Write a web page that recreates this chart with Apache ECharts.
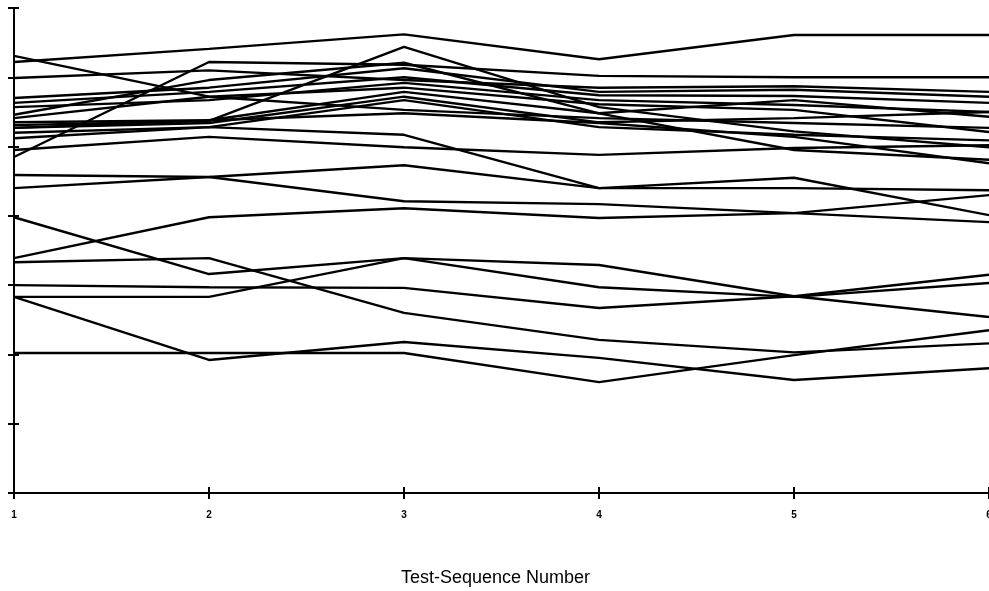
<!DOCTYPE html>
<html>
<head>
<meta charset="utf-8">
<script src="https://cdn.jsdelivr.net/npm/echarts@6/dist/echarts.min.js"></script>
<style>
    html, body {margin: 0; padding: 0; background: #fff; overflow: hidden;}
    #container {width: 989px; height: 591px;}
</style>
</head>
<body>
<div id="container"></div>
<script>
// 测试序号
var xdata = [1, 2, 3, 4, 5, 6];

// 每条线在各个测试序号上的读数
var line01 = [62.2, 64.1, 66.2, 62.6, 66.1, 66.1];
var line02 = [48.5, 62.2, 61.8, 60.2, 60.0, 60.0];
var line03 = [53.1, 53.7, 64.4, 55.7, 52.2, 49.9];
var line04 = [63.1, 57.2, 55.3, 54.1, 53.4, 52.7];
var line05 = [59.9, 61.0, 59.6, 58.5, 58.7, 57.9];
var line06 = [57.0, 58.5, 61.3, 57.9, 58.2, 57.2];
var line07 = [56.3, 57.9, 60.0, 57.4, 57.3, 56.3];
var line08 = [55.7, 56.7, 59.2, 56.7, 56.0, 55.0];
var line09 = [54.1, 57.2, 58.5, 56.1, 55.3, 52.1];
var line10 = [54.6, 59.6, 62.1, 54.8, 56.7, 54.3];
var line11 = [52.7, 53.4, 57.2, 53.5, 54.1, 55.0];
var line12 = [52.0, 52.8, 56.7, 52.8, 51.7, 50.9];
var line13 = [53.5, 53.8, 57.9, 54.8, 49.5, 48.1];
var line14 = [51.2, 52.8, 51.7, 44.0, 45.5, 40.1];
var line15 = [52.7, 53.8, 54.8, 53.4, 51.4, 47.6];
var line16 = [49.5, 51.4, 49.9, 48.8, 49.8, 50.2];
var line17 = [44.0, 45.6, 47.3, 44.0, 44.0, 43.7];
var line18 = [45.9, 45.6, 42.1, 41.7, 40.4, 39.1];
var line19 = [33.9, 39.8, 41.1, 39.7, 40.4, 43.0];
var line20 = [39.8, 31.6, 33.9, 32.9, 28.4, 25.4];
var line21 = [28.3, 28.3, 33.9, 29.7, 28.3, 30.3];
var line22 = [30.0, 29.7, 29.6, 26.7, 28.4, 31.5];
var line23 = [33.3, 33.9, 26.0, 22.1, 20.3, 21.6];
var line24 = [28.3, 19.2, 21.8, 19.5, 16.3, 18.0];
var line25 = [20.2, 20.2, 20.2, 16.0, 19.9, 23.5];

var lines = [line01, line02, line03, line04, line05, line06, line07, line08, line09, line10,
    line11, line12, line13, line14, line15, line16, line17, line18, line19, line20,
    line21, line22, line23, line24, line25];

var dom = document.getElementById("container");
var myChart = echarts.init(dom);

var series = [];
for (var k = 0; k < lines.length; k++) {
    var pts = [];
    for (var i = 0; i < xdata.length; i++) {
        pts.push([xdata[i], lines[k][i]]);
    }
    series.push({
        type: 'line',
        data: pts,
        symbol: 'none',
        xAxisIndex: 0,
        yAxisIndex: 0,
        lineStyle: {color: '#000', width: 2.4},
        silent: true
    });
}

var option = {
    animation: false,
    backgroundColor: '#fff',
    grid: {left: 14, right: 0, top: 8, bottom: 98, containLabel: false, outerBoundsMode: 'none'},
    xAxis: [
        {
            type: 'value',
            min: 1,
            max: 6,
            interval: 1,
            name: 'Test-Sequence Number',
            nameLocation: 'middle',
            nameGap: 76,
            nameTextStyle: {color: '#000', fontSize: 18, fontFamily: 'Liberation Sans', padding: [0, 12, 0, 0]},
            axisLine: {lineStyle: {color: '#000', width: 2}},
            axisTick: {show: true, length: 6, lineStyle: {color: '#000', width: 2}},
            axisLabel: {color: '#000', fontSize: 10, fontWeight: 'bold', margin: 17, fontFamily: 'Liberation Sans'},
            splitLine: {show: false}
        },
        {
            type: 'value',
            min: 1,
            max: 6,
            interval: 1,
            position: 'bottom',
            axisLine: {show: false},
            axisTick: {show: true, inside: true, length: 6, lineStyle: {color: '#000', width: 2}},
            axisLabel: {show: false},
            splitLine: {show: false}
        }
    ],
    yAxis: [
        {
            type: 'value',
            min: 0,
            max: 70,
            interval: 10,
            axisLine: {show: true, lineStyle: {color: '#000', width: 2}},
            axisTick: {show: true, length: 6, lineStyle: {color: '#000', width: 2}},
            axisLabel: {show: false},
            splitLine: {show: false}
        },
        {
            type: 'value',
            min: 0,
            max: 70,
            interval: 10,
            position: 'left',
            axisLine: {show: false},
            axisTick: {show: true, inside: true, length: 5, lineStyle: {color: '#000', width: 2}},
            axisLabel: {show: false},
            splitLine: {show: false}
        }
    ],
    series: series
};

if (option && typeof option === 'object') {
    myChart.setOption(option);
}
</script>
</body>
</html>
